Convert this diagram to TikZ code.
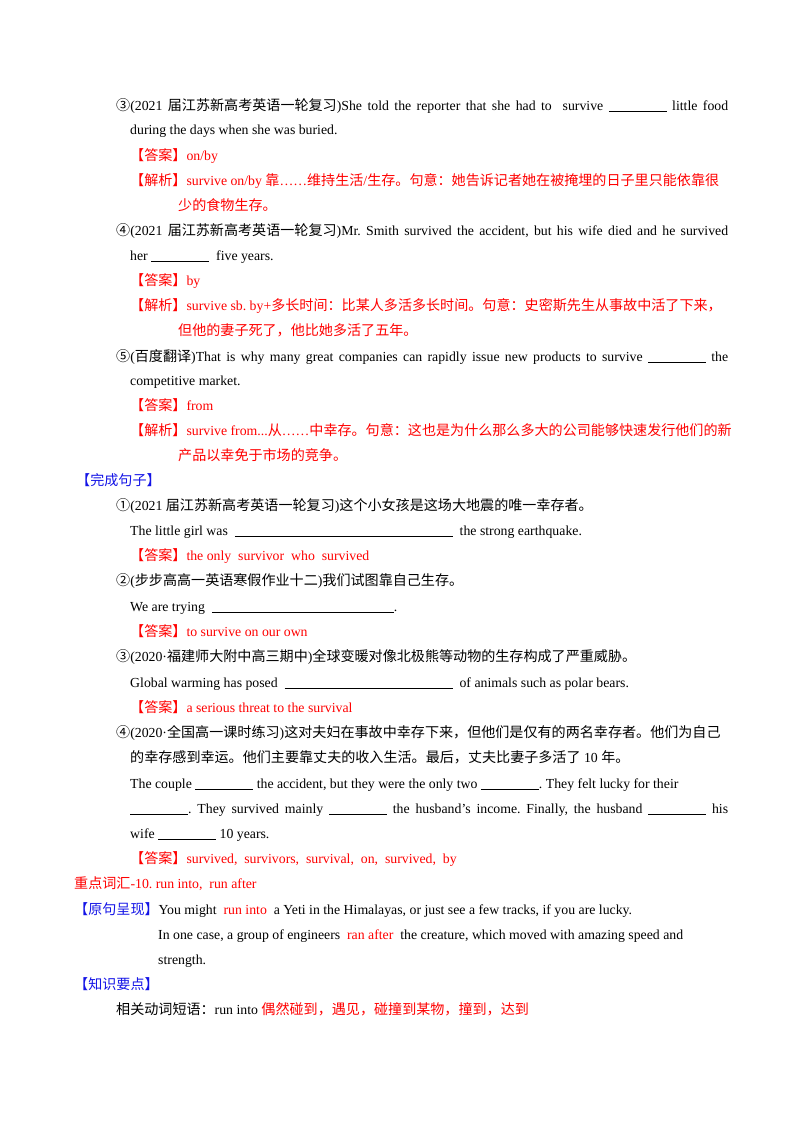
\documentclass[tikz,border=0pt]{standalone}
\usepackage{fontspec}
\setmainfont{Liberation Serif}
\newfontfamily\cjkf[Scale=1.02]{Noto Sans CJK SC}
\newcommand\rmf{\rmfamily}
\XeTeXinterchartokenstate=1
\newXeTeXintercharclass\CJKcls
\count255="4E00 \loop \XeTeXcharclass\count255=\CJKcls \ifnum\count255<"9FFF \advance\count255 1 \repeat
\count255="3000 \loop \XeTeXcharclass\count255=\CJKcls \ifnum\count255<"303F \advance\count255 1 \repeat
\count255="FF00 \loop \XeTeXcharclass\count255=\CJKcls \ifnum\count255<"FFEF \advance\count255 1 \repeat
\count255="2460 \loop \XeTeXcharclass\count255=\CJKcls \ifnum\count255<"2473 \advance\count255 1 \repeat
\XeTeXinterchartoks 0 \CJKcls = {\cjkf}
\XeTeXinterchartoks 4095 \CJKcls = {\cjkf}
\XeTeXinterchartoks \CJKcls 0 = {\rmf}
\XeTeXinterchartoks \CJKcls 4095 = {\rmf}
\newcommand\blank[1][58pt]{\rule[-1.5pt]{#1}{0.5pt}}
\newcommand\R[1]{\textcolor{red}{#1}}
\definecolor{hdblue}{RGB}{20,20,230}
\tikzset{ln/.style={anchor=base west,inner sep=0pt,font=\fontsize{13.8}{16}\selectfont\frenchspacing}}
\begin{document}
\begin{tikzpicture}[x=1pt,y=-1pt]
\useasboundingbox (0,0) rectangle (800,1132);
\node[ln] (a1) at (116,110) {\makebox[612pt][s]{③(2021 届江苏新高考英语一轮复习)She told the reporter that she had to \ survive \blank\ little food}};
\node[ln] (a2) at (130,134) {during the days when she was buried.};
\node[ln,red] (a3) at (130,160) {【答案】on/by};
\node[ln,red] (a4) at (130,185) {【解析】survive on/by 靠……维持生活/生存。句意：她告诉记者她在被掩埋的日子里只能依靠很};
\node[ln,red] (a5) at (178,210) {少的食物生存。};
\node[ln] (b1) at (116,235) {\makebox[612pt][s]{④(2021 届江苏新高考英语一轮复习)Mr. Smith survived the accident, but his wife died and he survived}};
\node[ln] (b2) at (130,260) {her \blank\ \ five years.};
\node[ln,red] (b3) at (130,285) {【答案】by};
\node[ln,red] (b4) at (130,310) {【解析】survive sb. by+多长时间：比某人多活多长时间。句意：史密斯先生从事故中活了下来，};
\node[ln,red] (b5) at (178,335) {但他的妻子死了，他比她多活了五年。};
\node[ln] (c1) at (116,361) {\makebox[612pt][s]{⑤(百度翻译)That is why many great companies can rapidly issue new products to survive \blank\ the}};
\node[ln] (c2) at (130,385) {competitive market.};
\node[ln,red] (c3) at (130,410) {【答案】from};
\node[ln,red] (c4) at (130,435) {【解析】survive from...从……中幸存。句意：这也是为什么那么多大的公司能够快速发行他们的新};
\node[ln,red] (c5) at (178,460) {产品以幸免于市场的竞争。};
\node[ln,hdblue] (h1) at (76,485) {【完成句子】};
\node[ln] (d1) at (116,510) {①(2021 届江苏新高考英语一轮复习)这个小女孩是这场大地震的唯一幸存者。};
\node[ln] (d2) at (130,535) {The little girl was \ \blank[218pt]\ \ the strong earthquake.};
\node[ln,red] (d3) at (130,560) {【答案】the only \ survivor \ who \ survived};
\node[ln] (e1) at (116,585) {②(步步高高一英语寒假作业十二)我们试图靠自己生存。};
\node[ln] (e2) at (130,611) {We are trying \ \blank[182pt].};
\node[ln,red] (e3) at (130,636) {【答案】to survive on our own};
\node[ln] (f1) at (116,661) {③(2020·福建师大附中高三期中)全球变暖对像北极熊等动物的生存构成了严重威胁。};
\node[ln] (f2) at (130,687) {Global warming has posed \ \blank[168pt]\ \ of animals such as polar bears.};
\node[ln,red] (f3) at (130,712) {【答案】a serious threat to the survival};
\node[ln] (g1) at (116,737) {④(2020·全国高一课时练习)这对夫妇在事故中幸存下来，但他们是仅有的两名幸存者。他们为自己};
\node[ln] (g2) at (130,762) {的幸存感到幸运。他们主要靠丈夫的收入生活。最后，丈夫比妻子多活了 10 年。};
\node[ln] (g3) at (130,788) {The couple \blank\ the accident, but they were the only two \blank. They felt lucky for their};
\node[ln] (g4) at (130,813) {\makebox[598pt][s]{\blank. They survived mainly \blank\ the husband’s income. Finally, the husband \blank\ his}};
\node[ln] (g5) at (130,838) {wife \blank\ 10 years.};
\node[ln,red] (g6) at (130,863) {【答案】survived, \ survivors, \ survival, \ on, \ survived, \ by};
\node[ln,red] (k1) at (74,888) {重点词汇-10. run into, \ run after};
\node[ln] (k2) at (74,914) {\textcolor{hdblue}{【原句呈现】}You might \ \R{run into} \ a Yeti in the Himalayas, or just see a few tracks, if you are lucky.};
\node[ln] (k3) at (158,939) {In one case, a group of engineers \ \R{ran after} \ the creature, which moved with amazing speed and};
\node[ln] (k4) at (158,964) {strength.};
\node[ln,hdblue] (k5) at (74,989) {【知识要点】};
\node[ln] (k6) at (116,1014) {相关动词短语：run into \R{偶然碰到，遇见，碰撞到某物，撞到，达到}};
\end{tikzpicture}
\end{document}
